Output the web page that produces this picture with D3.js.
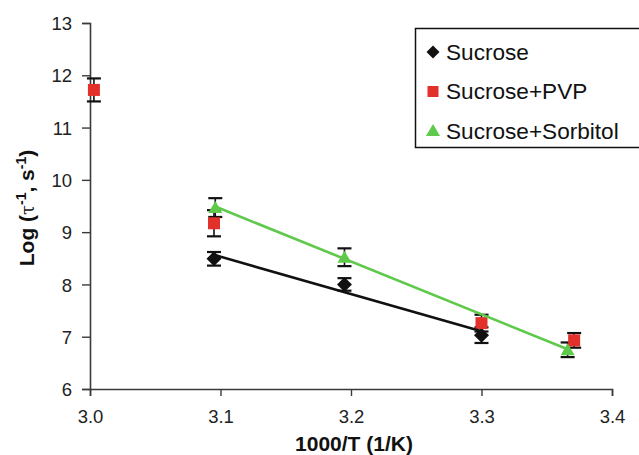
<!DOCTYPE html>
<html>
<head>
<meta charset="utf-8">
<script src="https://cdn.jsdelivr.net/npm/d3@7"></script>
<style>
  body { margin: 0; background: #fff; }
  svg { display: block; font-family: "Liberation Sans", Arial, sans-serif; }
</style>
</head>
<body>
<svg id="chart" width="639" height="455"></svg>
<script>
// relaxation data, log of inverse relaxation time vs 1000/T
var sucroseX = [3.095, 3.195, 3.300];
var sucroseY = [8.49, 8.00, 7.03];
var sucroseErr = [0.13, 0.12, 0.15];

var pvpX = [3.003, 3.095, 3.300, 3.371];
var pvpY = [11.72, 9.17, 7.26, 6.93];
var pvpErr = [0.22, 0.25, 0.16, 0.14];

var sorbitolX = [3.096, 3.195, 3.366];
var sorbitolY = [9.47, 8.52, 6.75];
var sorbitolErr = [0.18, 0.17, 0.14];

var xTicks = [3.0, 3.1, 3.2, 3.3, 3.4];
var yTicks = [6, 7, 8, 9, 10, 11, 12, 13];

var legendLabels = ["Sucrose", "Sucrose+PVP", "Sucrose+Sorbitol"];

function drawChart() {
	var svg = d3.select("#chart");

	var x = d3.scaleLinear().domain([3.0, 3.4]).range([90, 612]);
	var y = d3.scaleLinear().domain([6, 13]).range([389, 23]);

	// Bundle the arrays into series for drawing.
	// rot: the diamond is just a square turned 45 degrees
	var series = [
		{ name: legendLabels[0], xs: sucroseX, ys: sucroseY, err: sucroseErr, color: "#111111", line: "#111111", shape: d3.symbolSquare, rot: 45, size: 112, lsize: 85 },
		{ name: legendLabels[1], xs: pvpX, ys: pvpY, err: pvpErr, color: "#e2302a", line: null, shape: d3.symbolSquare, rot: 0, size: 144, lsize: 121 },
		{ name: legendLabels[2], xs: sorbitolX, ys: sorbitolY, err: sorbitolErr, color: "#5ec94a", line: "#5ec94a", shape: d3.symbolTriangle, rot: 0, size: 85, lsize: 85 }
	];
	series.forEach(function(s) {
		s.points = s.xs.map(function(v, i) {
			return { x: v, y: s.ys[i], e: s.err[i] };
		});
	});

	// Axes
	var xAxis = svg.append("g")
		.attr("transform", "translate(0," + y(6) + ")")
		.call(d3.axisBottom(x).tickValues(xTicks).tickFormat(d3.format(".1f")).tickSizeOuter(0).tickSize(7).tickPadding(14));
	var yAxis = svg.append("g")
		.attr("transform", "translate(" + x(3.0) + ",0)")
		.call(d3.axisLeft(y).tickValues(yTicks).tickFormat(d3.format("d")).tickSizeOuter(0).tickSize(8).tickPadding(10));

	[xAxis, yAxis].forEach(function(a) {
		a.select(".domain").attr("stroke", "#3a3a3a").attr("stroke-width", 1.6);
		a.selectAll(".tick line").attr("stroke", "#3a3a3a").attr("stroke-width", 1.4);
		a.selectAll(".tick text").attr("fill", "#222").style("font-size", "18.5px").style("font-family", "Liberation Sans, Arial, sans-serif");
	});
	yAxis.selectAll(".tick text").attr("dy", "0.36em");

	// Error bars
	var capW = 7;
	series.forEach(function(s) {
		var g = svg.append("g").attr("stroke", "#111").attr("stroke-width", 1.6).attr("fill", "none");
		s.points.forEach(function(d) {
			var cx = x(d.x), top = y(d.y + d.e), bot = y(d.y - d.e);
			g.append("line").attr("x1", cx).attr("x2", cx).attr("y1", top).attr("y2", bot);
			g.append("line").attr("x1", cx - capW).attr("x2", cx + capW).attr("y1", top).attr("y2", top).attr("stroke-width", 2.2);
			g.append("line").attr("x1", cx - capW).attr("x2", cx + capW).attr("y1", bot).attr("y2", bot).attr("stroke-width", 2.2);
		});
	});

	// Markers
	series.forEach(function(s) {
		svg.append("g").selectAll("path").data(s.points).enter().append("path")
			.attr("d", d3.symbol().type(s.shape).size(s.size))
			.attr("transform", function(d) {
				var dy = s.shape === d3.symbolTriangle ? 1.5 : 0;
				return "translate(" + x(d.x) + "," + (y(d.y) + dy) + ") rotate(" + s.rot + ")";
			})
			.attr("fill", s.color);
	});

	// Linear trend lines (least squares over each series)
	series.forEach(function(s) {
		if (!s.line) return;
		var mx = d3.mean(s.xs), my = d3.mean(s.ys);
		var sxy = d3.sum(s.xs, function(v, i) { return (v - mx) * (s.ys[i] - my); });
		var sxx = d3.sum(s.xs, function(v) { return (v - mx) * (v - mx); });
		var slope = sxy / sxx, icpt = my - slope * mx;
		var x0 = d3.min(s.xs), x1 = d3.max(s.xs);
		svg.append("line")
			.attr("x1", x(x0)).attr("y1", y(icpt + slope * x0))
			.attr("x2", x(x1)).attr("y2", y(icpt + slope * x1))
			.attr("stroke", s.line).attr("stroke-width", 2.6);
	});

	// Axis titles
	svg.append("text")
		.attr("x", 354).attr("y", 451)
		.attr("text-anchor", "middle")
		.style("font-weight", "bold").style("font-size", "21px").attr("fill", "#111")
		.text("1000/T (1/K)");

	var yt = svg.append("text")
		.attr("transform", "translate(34,208) rotate(-90)")
		.attr("text-anchor", "middle")
		.style("font-weight", "bold").style("font-size", "21px").attr("fill", "#111");
	yt.append("tspan").text("Log (");
	yt.append("tspan").style("font-weight", "normal").style("font-family", "DejaVu Serif, serif").style("font-size", "18px").text("τ");
	yt.append("tspan").attr("baseline-shift", "super").style("font-size", "14px").text("-1");
	yt.append("tspan").text(", s");
	yt.append("tspan").attr("baseline-shift", "super").style("font-size", "14px").text("-1");
	yt.append("tspan").text(")");

	// Legend (box runs off the right edge)
	var lg = svg.append("g");
	lg.append("rect")
		.attr("x", 415.5).attr("y", 28.5).attr("width", 240).attr("height", 119)
		.attr("fill", "#fff").attr("stroke", "#111").attr("stroke-width", 1.5);
	var rows = lg.selectAll("g.row").data(series).enter().append("g").attr("class", "row")
		.attr("transform", function(d, i) { return "translate(0," + (52 + i * 39.5) + ")"; });
	rows.append("path")
		.attr("d", function(d) { return d3.symbol().type(d.shape).size(d.lsize)(); })
		.attr("transform", function(d) { return "translate(433," + (d.shape === d3.symbolTriangle ? 1 : 0) + ") rotate(" + d.rot + ")"; })
		.attr("fill", function(d) { return d.color; });
	rows.append("text")
		.attr("x", 446).attr("y", 0).attr("dy", "0.35em")
		.style("font-size", "22.6px").attr("fill", "#111")
		.text(function(d) { return d.name; });
}

drawChart();
</script>
</body>
</html>
